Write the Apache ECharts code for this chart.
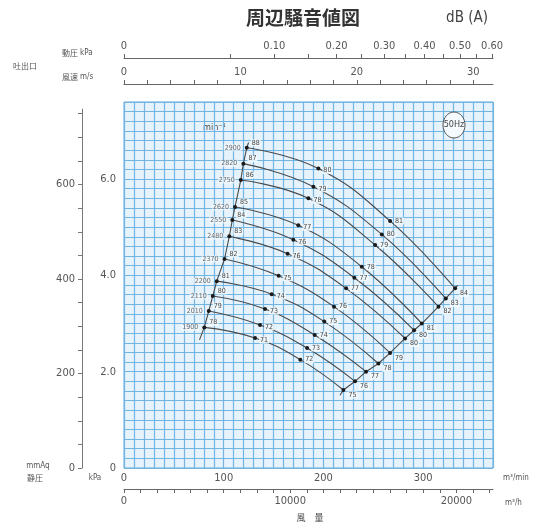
<!DOCTYPE html>
<html><head><meta charset="utf-8">
<script src="https://cdn.jsdelivr.net/npm/echarts@6/dist/echarts.min.js"></script>
<style>html,body{margin:0;padding:0;background:#fff}#c{width:552px;height:528px}</style>
</head><body><div id="c"></div>
<script>
// ---- data ----
const speeds = [2900, 2820, 2750, 2620, 2550, 2480, 2370, 2200, 2110, 2010, 1900]; // min^-1
// operating points per speed curve: flow (m3/min), static pressure (kPa)
const startQ = [123.1, 119.7, 117.1, 111.3, 108.6, 105.6, 100.8, 93.0, 89.0, 85.0, 80.5];
const startP = [6.65, 6.32, 5.98, 5.42, 5.15, 4.81, 4.34, 3.88, 3.57, 3.26, 2.92];
const mid1Q  = [194.9, 189.9, 184.9, 174.8, 169.8, 164.0, 155.0, 148.1, 141.4, 136.4, 131.4];
const mid1P  = [6.22, 5.84, 5.60, 5.04, 4.74, 4.45, 3.99, 3.61, 3.30, 2.97, 2.70];
const mid2Q  = [266.8, 258.5, 251.8, 238.4, 231.0, 222.7, 210.6, 200.8, 191.2, 183.6, 176.8];
const mid2P  = [5.13, 4.85, 4.63, 4.18, 3.95, 3.73, 3.35, 3.04, 2.76, 2.49, 2.25];
const endQ   = [332.0, 322.7, 315.3, 298.6, 290.9, 281.8, 266.8, 255.1, 242.7, 231.7, 220.0];
const endP   = [3.73, 3.52, 3.35, 3.00, 2.86, 2.69, 2.39, 2.17, 2.00, 1.80, 1.62];
// noise values dB(A) at the points
const dbStart = [88, 87, 86, 85, 84, 83, 82, 81, 80, 79, 78];
const dbMid1  = [80, 79, 78, 77, 76, 76, 75, 74, 73, 72, 71];
const dbMid2  = [81, 80, 79, 78, 77, 77, 76, 75, 74, 73, 72];
const dbEnd   = [84, 83, 82, 81, 80, 80, 79, 78, 77, 76, 75];
// extension points of the boundary lines
const leftLineEnds  = [[75.7, 2.66], [124.9, 6.76]];
const rightLineEnds = [[216.6, 1.51], [334.5, 3.79]];
// tick values
const pdTicks  = [0, 0.05, 0.10, 0.15, 0.20, 0.25, 0.30, 0.35, 0.40, 0.45, 0.50, 0.55, 0.60]; // kPa
const pdLabels = [0, 0.10, 0.20, 0.30, 0.40, 0.50, 0.60];

// ---- chart ----
const FONT = "'Liberation Sans Narrow','DejaVu Sans Condensed','Liberation Sans',sans-serif";
const JP = "'Noto Sans CJK JP','Noto Sans',sans-serif";
const TXT = '#555';
const vOf = pd => Math.sqrt(pd * 1000 / 0.6);           // dynamic pressure -> outlet velocity
const pdOf = v => 0.6 * v * v / 1000;
const mult = (v, s) => Math.abs(v / s - Math.round(v / s)) < 1e-6;

const chart = echarts.init(document.getElementById('c'));

const lbl = {show: true, fontSize: 7, color: '#444', fontFamily: FONT,
  backgroundColor: 'rgba(245,250,253,0.85)', padding: [0, 1]};

const curveSeries = speeds.map((n, i) => ({
  type: 'line', xAxisIndex: 0, yAxisIndex: 0, smooth: 0.45,
  symbol: 'circle', symbolSize: 4, showSymbol: true, z: 5,
  lineStyle: {color: '#4a4a4a', width: 1.1},
  itemStyle: {color: '#1a1a1a'},
  label: lbl, emphasis: {disabled: true}, silent: true,
  data: [
    {value: [startQ[i], startP[i]], label: {formatter: String(dbStart[i]), position: 'right', distance: 2, offset: [0, -5]}},
    {value: [mid1Q[i], mid1P[i]], label: {formatter: String(dbMid1[i]), position: 'right', distance: 2, offset: [0, 2]}},
    {value: [mid2Q[i], mid2P[i]], label: {formatter: String(dbMid2[i]), position: 'right', distance: 2, offset: [0, 0]}},
    {value: [endQ[i], endP[i]], label: {formatter: String(dbEnd[i]), position: 'right', distance: 2, offset: [0, 5]}}
  ]
}));

const leftLine = [leftLineEnds[0]].concat(startQ.map((q, i) => [q, startP[i]]).reverse(), [leftLineEnds[1]]);
const rightLine = [rightLineEnds[0]].concat(endQ.map((q, i) => [q, endP[i]]).reverse(), [rightLineEnds[1]]);

const option = {
  animation: false,
  backgroundColor: '#fff',
  grid: [
    {left: 124, right: 59, top: 102, bottom: 60, show: true, backgroundColor: '#e6f3fc', borderColor: '#62a9dc', borderWidth: 1},
    {left: 82, width: 1, top: 109, bottom: 60},
    {left: 124, right: 59, top: 84, height: 1},
    {left: 124, right: 59, top: 58, height: 1}
  ],
  xAxis: [
    {gridIndex: 0, type: 'value', min: 0, max: 370, interval: 10, position: 'bottom',
      axisLine: {show: false}, axisTick: {show: false},
      splitLine: {show: true, lineStyle: {color: '#72b4e2', width: 1.2}},
      axisLabel: {formatter: v => mult(v, 100) ? String(v) : '', margin: 5, fontSize: 11, color: TXT, fontFamily: FONT, showMaxLabel: false}},
    {gridIndex: 0, type: 'value', min: 0, max: 22200, interval: 1000, position: 'bottom', offset: 21,
      axisLine: {show: true, lineStyle: {color: '#666', width: 1}},
      axisTick: {show: true, length: 4, lineStyle: {color: '#666'}},
      splitLine: {show: false},
      axisLabel: {formatter: v => mult(v, 10000) ? String(v) : '', margin: 7, fontSize: 11, color: TXT, fontFamily: FONT, showMaxLabel: false}},
    {gridIndex: 2, type: 'value', min: 0, max: 31.7, interval: 2, position: 'top',
      axisLine: {show: true, onZero: false, lineStyle: {color: '#666'}},
      axisTick: {show: true, length: 4, lineStyle: {color: '#666'}},
      splitLine: {show: false},
      axisLabel: {formatter: v => mult(v, 10) ? String(v) : '', margin: 6, fontSize: 11, color: TXT, fontFamily: FONT, showMaxLabel: false}},
    {gridIndex: 3, type: 'value', min: 0, max: 31.7, position: 'top',
      axisLine: {show: true, onZero: false, lineStyle: {color: '#666'}},
      axisTick: {show: true, length: 4, lineStyle: {color: '#666'}, customValues: pdTicks.map(vOf)},
      splitLine: {show: false},
      axisLabel: {customValues: pdLabels.map(vOf), margin: 6, fontSize: 11, color: TXT, fontFamily: FONT,
        formatter: v => { const p = Math.round(pdOf(v) * 100) / 100; return p === 0 ? '0' : p.toFixed(2); }}},
    {gridIndex: 1, type: 'value', min: 0, max: 1, show: false}
  ],
  yAxis: [
    {gridIndex: 0, type: 'value', min: 0, max: 7.6, interval: 0.2,
      axisLine: {show: false}, axisTick: {show: false},
      splitLine: {show: true, lineStyle: {color: '#72b4e2', width: 1.2}},
      axisLabel: {formatter: v => mult(v, 2) ? (v === 0 ? '0' : v.toFixed(1)) : '', margin: 8, fontSize: 11, color: TXT, fontFamily: FONT, showMaxLabel: false}},
    {gridIndex: 1, type: 'value', min: 0, max: 760, interval: 50, position: 'left',
      axisLine: {show: true, onZero: false, lineStyle: {color: '#777'}},
      axisTick: {show: true, length: 4, lineStyle: {color: '#777'}},
      splitLine: {show: false},
      axisLabel: {formatter: v => mult(v, 200) ? String(v) : '', margin: 7, fontSize: 11, color: TXT, fontFamily: FONT, showMaxLabel: false}},
    {gridIndex: 2, type: 'value', show: false},
    {gridIndex: 3, type: 'value', show: false}
  ],
  series: curveSeries.concat([
    {type: 'line', xAxisIndex: 0, yAxisIndex: 0, data: leftLine, symbol: 'none', silent: true,
      lineStyle: {color: '#4a4a4a', width: 1.1}, z: 4},
    {type: 'line', xAxisIndex: 0, yAxisIndex: 0, data: rightLine, symbol: 'none', silent: true,
      lineStyle: {color: '#4a4a4a', width: 1.1}, z: 4},
    {type: 'scatter', xAxisIndex: 0, yAxisIndex: 0, symbolSize: 2, silent: true, z: 6,
      itemStyle: {color: 'rgba(0,0,0,0)'},
      data: startQ.map((q, i) => [q, startP[i]]),
      label: {show: true, position: 'left', distance: 4, fontSize: 7, color: '#444', fontFamily: FONT,
        backgroundColor: 'rgba(245,250,253,0.85)', padding: [0, 1],
        formatter: p => String(speeds[p.dataIndex])}}
  ]),
  graphic: [
    {type: 'text', x: 303, y: 18, style: {text: '周辺騒音値図', font: 'bold 19px ' + JP, fill: '#333', align: 'center', verticalAlign: 'middle'}},
    {type: 'text', x: 467, y: 18, style: {text: 'dB (A)', font: '15px ' + FONT, fill: '#444', align: 'center', verticalAlign: 'middle'}},
    {type: 'text', x: 25, y: 66, style: {text: '吐出口', font: '8px ' + JP, fill: TXT, align: 'center', verticalAlign: 'middle'}},
    {type: 'text', x: 62, y: 53, style: {text: '動圧', font: '8px ' + JP, fill: TXT, verticalAlign: 'middle'}},
    {type: 'text', x: 80, y: 53, style: {text: 'kPa', font: '8px ' + FONT, fill: TXT, verticalAlign: 'middle'}},
    {type: 'text', x: 62, y: 77, style: {text: '風速', font: '8px ' + JP, fill: TXT, verticalAlign: 'middle'}},
    {type: 'text', x: 80, y: 77, style: {text: 'm/s', font: '8px ' + FONT, fill: TXT, verticalAlign: 'middle'}},
    {type: 'text', x: 38, y: 466, style: {text: 'mmAq', font: '8px ' + FONT, fill: TXT, align: 'center', verticalAlign: 'middle'}},
    {type: 'text', x: 35, y: 478, style: {text: '静圧', font: '8px ' + JP, fill: TXT, align: 'center', verticalAlign: 'middle'}},
    {type: 'text', x: 95, y: 478, style: {text: 'kPa', font: '8px ' + FONT, fill: TXT, align: 'center', verticalAlign: 'middle'}},
    {type: 'text', x: 503, y: 478, style: {text: 'm³/min', font: '8px ' + FONT, fill: TXT, verticalAlign: 'middle'}},
    {type: 'text', x: 505, y: 503, style: {text: 'm³/h', font: '8px ' + FONT, fill: TXT, verticalAlign: 'middle'}},
    {type: 'text', x: 310, y: 518, style: {text: '風　量', font: '9px ' + JP, fill: '#444', align: 'center', verticalAlign: 'middle'}},
    {type: 'text', x: 203, y: 128, style: {text: 'min⁻¹', font: '9px ' + FONT, fill: '#444', verticalAlign: 'middle'}},
    {type: 'ellipse', shape: {cx: 454, cy: 125, rx: 11, ry: 13}, style: {fill: '#f4fafd', stroke: '#555', lineWidth: 1}, z: 10},
    {type: 'text', x: 454, y: 125, z: 11, style: {text: '50Hz', font: '9px ' + FONT, fill: '#444', align: 'center', verticalAlign: 'middle'}}
  ]
};
chart.setOption(option);
</script>
</body></html>
